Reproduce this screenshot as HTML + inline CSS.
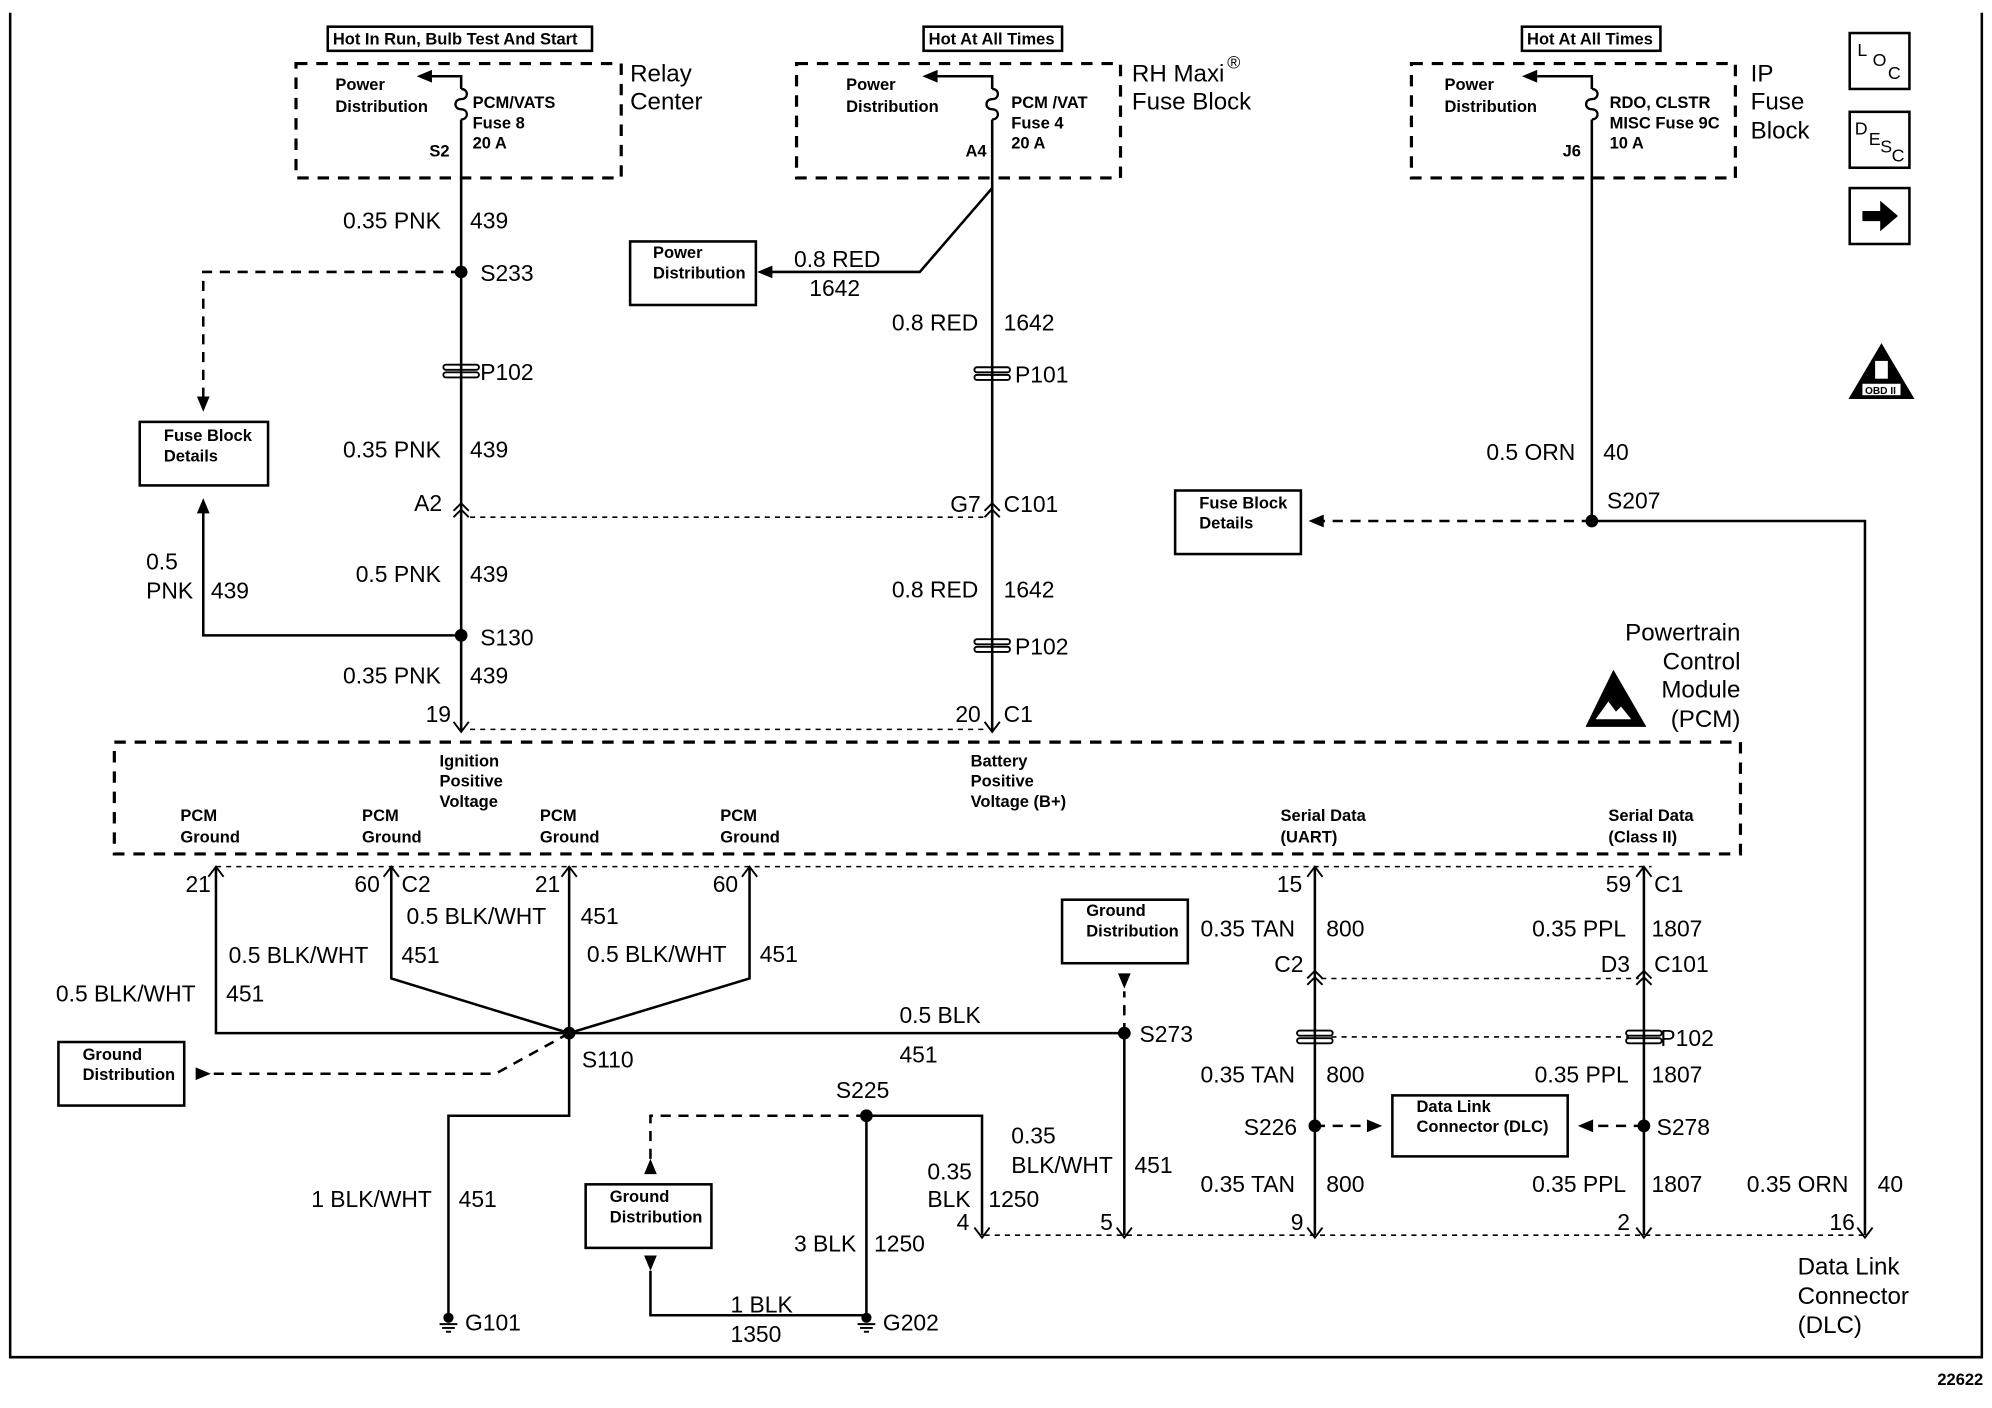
<!DOCTYPE html>
<html><head><meta charset="utf-8"><style>
html,body{margin:0;padding:0;background:#fff}
svg{display:block}
text{font-family:"Liberation Sans",Arial,sans-serif;fill:#000}
.w{font-size:18px}
.s{font-size:13px;font-weight:bold}
.m{font-size:14px}
.b{font-size:19px}
</style></head><body>
<svg width="1992" height="1408" viewBox="0 0 1568 1108" preserveAspectRatio="none" xmlns="http://www.w3.org/2000/svg">
<defs>
<g id="gnd"><line x1="0" y1="0" x2="0" y2="4" stroke="#000" stroke-width="2"/><circle cx="0" cy="2" r="4"/><line x1="-7" y1="7" x2="7" y2="7" stroke="#000" stroke-width="1.5"/><line x1="-5" y1="10" x2="5" y2="10" stroke="#000" stroke-width="1.5"/><line x1="-2" y1="13" x2="2" y2="13" stroke="#000" stroke-width="1.5"/></g>
<g id="pc"><rect x="-14" y="-5" width="28" height="4" rx="2" fill="none" stroke="#000" stroke-width="1.5"/><rect x="-14" y="1" width="28" height="4" rx="2" fill="none" stroke="#000" stroke-width="1.5"/></g>
<g id="chev"><polyline points="-6,6 0,0 6,6" fill="none" stroke="#000" stroke-width="1.5"/><polyline points="-6,11 0,5 6,11" fill="none" stroke="#000" stroke-width="1.5"/></g>
<g id="fuse"><path d="M0,0 c6,0 6,8 0,8 c-6,0 -6,8 0,8 c6,0 6,8 0,8" fill="none" stroke="#000" stroke-width="1.8"/></g>
</defs>
<g fill="none" stroke="#000" stroke-width="2">
<polyline points="8,10 8,1068 1560,1068 1560,10"/>
</g>
<g fill="none" stroke="#000" stroke-width="2">
<rect x="258" y="21" width="208" height="19"/>
<rect x="727" y="21" width="109" height="19"/>
<rect x="1198" y="21" width="109" height="19"/>
</g>
<text x="262" y="35" class="s">Hot In Run, Bulb Test And Start</text>
<text x="731" y="35" class="s">Hot At All Times</text>
<text x="1202" y="35" class="s">Hot At All Times</text>
<g fill="none" stroke="#000" stroke-width="2.5" stroke-dasharray="9,7">
<rect x="233" y="50" width="256" height="90"/>
<rect x="627" y="50" width="255" height="90"/>
<rect x="1111" y="50" width="255" height="90"/>
<rect x="90" y="584" width="1280" height="88"/>
</g>
<g class="s">
<text x="264" y="71" class="s">Power</text><text x="264" y="88" class="s">Distribution</text>
<text x="372" y="85" class="s">PCM/VATS</text><text x="372" y="101" class="s">Fuse 8</text><text x="372" y="117" class="s">20 A</text><text x="338" y="123" class="s">S2</text>
<text x="666" y="71" class="s">Power</text><text x="666" y="88" class="s">Distribution</text>
<text x="796" y="85" class="s">PCM /VAT</text><text x="796" y="101" class="s">Fuse 4</text><text x="796" y="117" class="s">20 A</text><text x="760" y="123" class="s">A4</text>
<text x="1137" y="71" class="s">Power</text><text x="1137" y="88" class="s">Distribution</text>
<text x="1267" y="85" class="s">RDO, CLSTR</text><text x="1267" y="101" class="s">MISC Fuse 9C</text><text x="1267" y="117" class="s">10 A</text><text x="1230" y="123" class="s">J6</text>
</g>
<text x="496" y="64" class="b">Relay</text><text x="496" y="86" class="b">Center</text>
<text x="891" y="64" class="b">RH Maxi</text><text x="966" y="54" class="m">®</text><text x="891" y="86" class="b">Fuse Block</text>
<text x="1378" y="64" class="b">IP</text><text x="1378" y="86" class="b">Fuse</text><text x="1378" y="109" class="b">Block</text>
<g stroke="#000" stroke-width="2" fill="none">
<polyline points="363,70 363,60 338,60"/><polyline points="781,70 781,60 738,60"/><polyline points="1253,70 1253,60 1210,60"/>
</g>
<polygon points="328,60 340,55 340,65"/><polygon points="726,60 738,55 738,65"/><polygon points="1198,60 1210,55 1210,65"/>
<use href="#fuse" x="363" y="70"/><use href="#fuse" x="781" y="70"/><use href="#fuse" x="1253" y="70"/>
<g stroke="#000" stroke-width="2" fill="none">
<line x1="363" y1="94" x2="363" y2="576"/>
<line x1="781" y1="94" x2="781" y2="576"/>
<line x1="1253" y1="94" x2="1253" y2="410"/>
<polyline points="781,148 724,214 604,214"/>
<polyline points="363,500 160,500 160,400"/>
<polyline points="1253,410 1468,410 1468,972"/>
<polyline points="170,682 170,813 448,813"/>
<polyline points="308,682 308,770 448,813"/>
<line x1="448" y1="682" x2="448" y2="813"/>
<polyline points="590,682 590,770 448,813"/>
<line x1="448" y1="813" x2="885" y2="813"/>
<polyline points="448,813 448,878 353,878 353,1035"/>
<line x1="885" y1="813" x2="885" y2="972"/>
<polyline points="682,878 773,878 773,972"/>
<line x1="682" y1="878" x2="682" y2="1035"/>
<polyline points="512,1000 512,1035 682,1035"/>
<line x1="1035" y1="682" x2="1035" y2="972"/>
<line x1="1294" y1="682" x2="1294" y2="972"/>
</g>
<polygon points="596,214 608,209 608,219"/>
<polygon points="160,392 155,404 165,404"/>
<g stroke="#000" stroke-width="2" fill="none" stroke-dasharray="8,6">
<polyline points="363,214 160,214 160,316"/>
<line x1="1253" y1="410" x2="1040" y2="410"/>
<polyline points="448,813 390,845 168,845"/>
<polyline points="682,878 512,878 512,912"/>
<line x1="885" y1="813" x2="885" y2="780"/>
<line x1="1035" y1="886" x2="1080" y2="886"/>
<line x1="1294" y1="886" x2="1250" y2="886"/>
</g>
<g stroke="#000" stroke-width="1.2" fill="none" stroke-dasharray="4,4">
<line x1="370" y1="407" x2="776" y2="407"/>
<line x1="370" y1="574" x2="776" y2="574"/>
<line x1="170" y1="682" x2="1300" y2="682"/>
<line x1="1040" y1="770" x2="1290" y2="770"/>
<line x1="1048" y1="816" x2="1282" y2="816"/>
<line x1="775" y1="972" x2="1468" y2="972"/>
</g>
<polygon points="160,324 155,312 165,312"/>
<polygon points="1030,410 1042,405 1042,415"/>
<polygon points="166,845 154,840 154,850"/>
<polygon points="512,912 507,924 517,924"/>
<polygon points="512,1000 507,988 517,988"/>
<polygon points="885,778 880,766 890,766"/>
<polygon points="1088,886 1076,881 1076,891"/>
<polygon points="1242,886 1254,881 1254,891"/>
<g><circle cx="363" cy="214" r="5"/><circle cx="363" cy="500" r="5"/><circle cx="1253" cy="410" r="5"/><circle cx="448" cy="813" r="5"/><circle cx="885" cy="813" r="5"/><circle cx="682" cy="878" r="5"/><circle cx="1035" cy="886" r="5"/><circle cx="1294" cy="886" r="5"/></g>
<g fill="#fff"><use href="#pc" x="363" y="292"/><use href="#pc" x="781" y="294"/><use href="#pc" x="781" y="508"/><use href="#pc" x="1035" y="816"/><use href="#pc" x="1294" y="816"/></g>
<use href="#chev" x="363" y="396"/><use href="#chev" x="781" y="396"/><use href="#chev" x="1035" y="764"/><use href="#chev" x="1294" y="764"/>
<g stroke="#000" stroke-width="1.5" fill="none">
<polyline points="164,690 170,682 176,690"/><polyline points="302,690 308,682 314,690"/><polyline points="442,690 448,682 454,690"/><polyline points="584,690 590,682 596,690"/><polyline points="1029,690 1035,682 1041,690"/><polyline points="1288,690 1294,682 1300,690"/>
<polyline points="357,568 363,576 369,568"/><polyline points="775,568 781,576 787,568"/>
<polyline points="767,966 773,974 779,966"/><polyline points="879,966 885,974 891,966"/><polyline points="1029,966 1035,974 1041,966"/><polyline points="1288,966 1294,974 1300,966"/><polyline points="1462,966 1468,974 1474,966"/>
</g>
<use href="#gnd" x="353" y="1035"/><use href="#gnd" x="682" y="1035"/>
<g fill="#fff" stroke="#000" stroke-width="2">
<rect x="110" y="332" width="101" height="50"/>
<rect x="496" y="190" width="99" height="50"/>
<rect x="925" y="386" width="99" height="50"/>
<rect x="46" y="820" width="99" height="50"/>
<rect x="836" y="708" width="99" height="50"/>
<rect x="461" y="932" width="99" height="50"/>
<rect x="1096" y="862" width="138" height="48"/>
<rect x="1456" y="26" width="47" height="44"/>
<rect x="1456" y="88" width="47" height="44"/>
<rect x="1456" y="148" width="47" height="44"/>
</g>
<text x="129" y="347" class="s">Fuse Block</text><text x="129" y="363" class="s">Details</text>
<text x="514" y="203" class="s">Power</text><text x="514" y="219" class="s">Distribution</text>
<text x="944" y="400" class="s">Fuse Block</text><text x="944" y="416" class="s">Details</text>
<text x="65" y="834" class="s">Ground</text><text x="65" y="850" class="s">Distribution</text>
<text x="855" y="721" class="s">Ground</text><text x="855" y="737" class="s">Distribution</text>
<text x="480" y="946" class="s">Ground</text><text x="480" y="962" class="s">Distribution</text>
<text x="1115" y="875" class="s">Data Link</text><text x="1115" y="891" class="s">Connector (DLC)</text>
<text x="1462" y="44" class="m">L</text><text x="1474" y="52" class="m">O</text><text x="1486" y="62" class="m">C</text>
<text x="1460" y="106" class="m">D</text><text x="1471" y="114" class="m">E</text><text x="1480" y="120" class="m">S</text><text x="1489" y="127" class="m">C</text>
<polygon points="1466,166 1480,166 1480,158 1494,170 1480,182 1480,174 1466,174"/>
<polygon points="1481,270 1507,314 1455,314"/><rect x="1466" y="302" width="30" height="9" fill="#fff"/><text x="1468" y="310" style="font-size:8px;font-weight:bold">OBD II</text>
<rect x="1476" y="284" width="10" height="14" fill="#fff"/>
<g class="s">
<text x="346" y="603" class="s">Ignition</text><text x="346" y="619" class="s">Positive</text><text x="346" y="635" class="s">Voltage</text>
<text x="764" y="603" class="s">Battery</text><text x="764" y="619" class="s">Positive</text><text x="764" y="635" class="s">Voltage (B+)</text>
<text x="142" y="646" class="s">PCM</text><text x="142" y="663" class="s">Ground</text>
<text x="285" y="646" class="s">PCM</text><text x="285" y="663" class="s">Ground</text>
<text x="425" y="646" class="s">PCM</text><text x="425" y="663" class="s">Ground</text>
<text x="567" y="646" class="s">PCM</text><text x="567" y="663" class="s">Ground</text>
<text x="1008" y="646" class="s">Serial Data</text><text x="1008" y="663" class="s">(UART)</text>
<text x="1266" y="646" class="s">Serial Data</text><text x="1266" y="663" class="s">(Class II)</text>
</g>
<g class="b" text-anchor="end"><text x="1370" y="504">Powertrain</text><text x="1370" y="527">Control</text><text x="1370" y="549">Module</text><text x="1370" y="572">(PCM)</text></g>
<polygon points="1270,527 1296,572 1248,572"/><path d="M1256,566 l10,-14 l6,8 l4,-4 l8,10 z" fill="#fff"/>
<g class="w">
<text x="270" y="180">0.35 PNK</text><text x="370" y="180">439</text>
<text x="378" y="221">S233</text><text x="378" y="299">P102</text>
<text x="270" y="360">0.35 PNK</text><text x="370" y="360">439</text>
<text x="326" y="402">A2</text>
<text x="280" y="458">0.5 PNK</text><text x="370" y="458">439</text>
<text x="378" y="508">S130</text>
<text x="115" y="448">0.5</text><text x="115" y="471">PNK</text><text x="166" y="471">439</text>
<text x="270" y="538">0.35 PNK</text><text x="370" y="538">439</text>
<text x="335" y="568">19</text>
<text x="625" y="210">0.8 RED</text><text x="637" y="233">1642</text>
<text x="702" y="260">0.8 RED</text><text x="790" y="260">1642</text>
<text x="799" y="301">P101</text>
<text x="748" y="403">G7</text><text x="790" y="403">C101</text>
<text x="702" y="470">0.8 RED</text><text x="790" y="470">1642</text>
<text x="799" y="515">P102</text>
<text x="752" y="568">20</text><text x="790" y="568">C1</text>
<text x="1170" y="362">0.5 ORN</text><text x="1262" y="362">40</text>
<text x="1265" y="400">S207</text>
<text x="146" y="702">21</text><text x="279" y="702">60</text><text x="316" y="702">C2</text><text x="421" y="702">21</text><text x="561" y="702">60</text>
<text x="1005" y="702">15</text><text x="1264" y="702">59</text><text x="1302" y="702">C1</text>
<text x="320" y="727">0.5 BLK/WHT</text><text x="457" y="727">451</text>
<text x="180" y="758">0.5 BLK/WHT</text><text x="316" y="758">451</text>
<text x="462" y="757">0.5 BLK/WHT</text><text x="598" y="757">451</text>
<text x="44" y="788">0.5 BLK/WHT</text><text x="178" y="788">451</text>
<text x="708" y="805">0.5 BLK</text><text x="708" y="836">451</text>
<text x="458" y="840">S110</text><text x="897" y="820">S273</text>
<text x="945" y="737">0.35 TAN</text><text x="1044" y="737">800</text>
<text x="1206" y="737">0.35 PPL</text><text x="1300" y="737">1807</text>
<text x="1003" y="765">C2</text><text x="1260" y="765">D3</text><text x="1302" y="765">C101</text>
<text x="1307" y="823">P102</text>
<text x="945" y="852">0.35 TAN</text><text x="1044" y="852">800</text>
<text x="1208" y="852">0.35 PPL</text><text x="1300" y="852">1807</text>
<text x="979" y="893">S226</text><text x="1304" y="893">S278</text>
<text x="945" y="938">0.35 TAN</text><text x="1044" y="938">800</text>
<text x="1206" y="938">0.35 PPL</text><text x="1300" y="938">1807</text>
<text x="1375" y="938">0.35 ORN</text><text x="1478" y="938">40</text>
<text x="1016" y="968">9</text><text x="1273" y="968">2</text><text x="1440" y="968">16</text>
<text x="658" y="864">S225</text>
<text x="796" y="900">0.35</text><text x="796" y="923">BLK/WHT</text><text x="893" y="923">451</text>
<text x="730" y="928">0.35</text><text x="730" y="950">BLK</text><text x="778" y="950">1250</text>
<text x="753" y="968">4</text><text x="866" y="968">5</text>
<text x="245" y="950">1 BLK/WHT</text><text x="361" y="950">451</text>
<text x="625" y="985">3 BLK</text><text x="688" y="985">1250</text>
<text x="575" y="1033">1 BLK</text><text x="575" y="1056">1350</text>
<text x="366" y="1047">G101</text><text x="695" y="1047">G202</text>
</g>
<g class="b"><text x="1415" y="1003">Data Link</text><text x="1415" y="1026">Connector</text><text x="1415" y="1049">(DLC)</text></g>
<text x="1525" y="1090" class="s">22622</text>
</svg>
</body></html>
